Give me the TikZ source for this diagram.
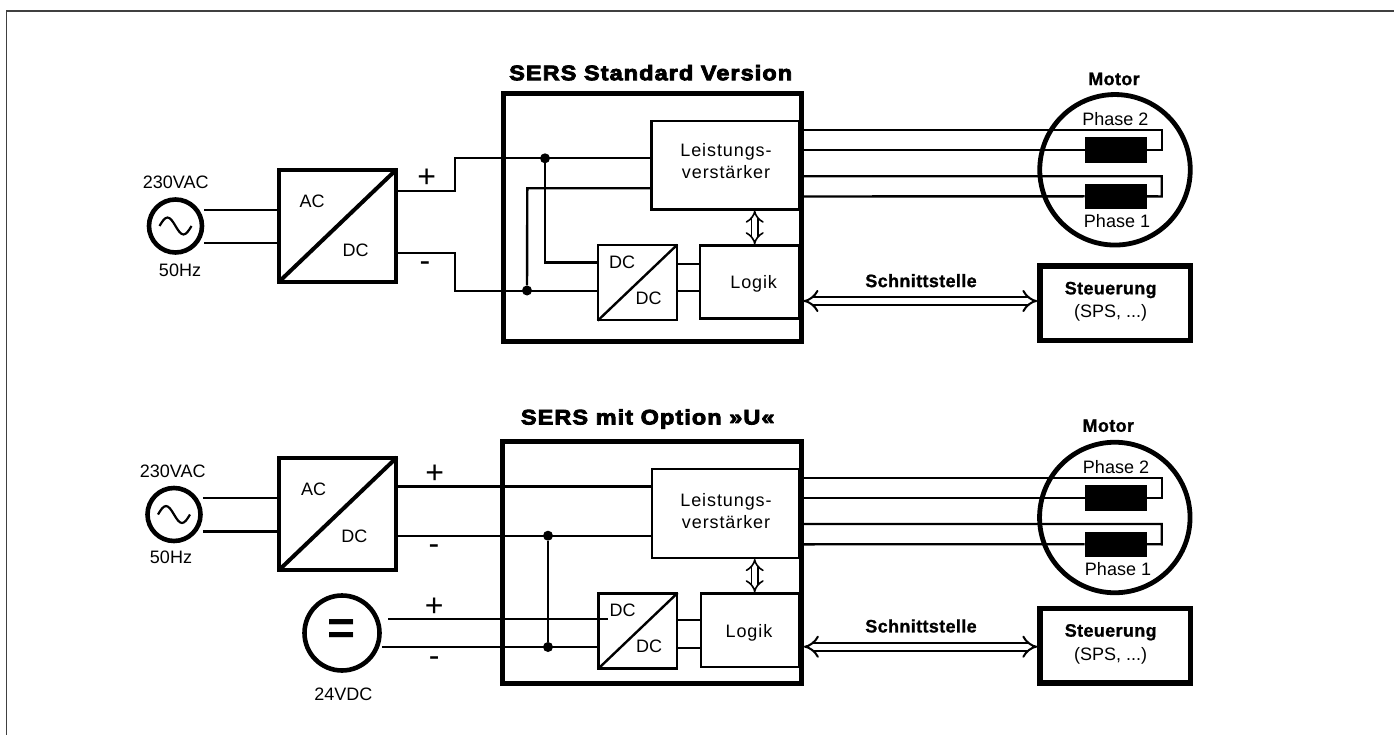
\documentclass[tikz,border=0pt]{standalone}
\usepackage{fontspec}
\setmainfont{Liberation Sans}
\newfontfamily\wirefont[LetterSpace=5]{Liberation Sans}
\newfontfamily\titlefont[UprightFont=* Bold,FakeBold=4,FakeStretch=1.12,LetterSpace=5]{Liberation Sans}
\newfontfamily\labelfont[UprightFont=* Bold,FakeBold=1,LetterSpace=2]{Liberation Sans}
\usetikzlibrary{arrows.meta,calc}

\begin{document}
\begin{tikzpicture}[
  x=1pt,y=-1pt,
  txt/.style={inner sep=0pt, font=\fontsize{18}{21}\selectfont},
  spaced/.style={inner sep=0pt, align=center, font=\fontsize{18}{22}\wirefont},
  head/.style={inner sep=0pt, font=\fontsize{21}{24}\titlefont},
  bold/.style={inner sep=0pt, align=center, font=\fontsize{18}{21}\labelfont},
  sign/.style={inner sep=0pt, font=\fontsize{32}{34}\selectfont},
  src/.style={draw, circle, line width=4.6pt, minimum size=53pt, inner sep=0pt},
  motor/.style={draw, circle, line width=4.8pt, minimum size=150.5pt, inner sep=0pt},
  block/.style={draw, line width=2.3pt, inner sep=0pt},
  conv/.style={draw, line width=4pt, inner sep=0pt},
  unit/.style={draw, line width=5pt, inner sep=0pt},
  ctrl/.style={draw, line width=5.6pt, inner sep=0pt},
  wire/.style={line width=2.4pt},
  dot/.style={circle, fill, minimum size=10pt, inner sep=0pt},
  coil/.style={fill, inner sep=0pt, minimum width=62pt, minimum height=25.4pt},
  bus/.style={double, double distance=5.6pt, line width=2pt, {Implies[]}-{Implies[]}}
]
\useasboundingbox (0,0) rectangle (1394,735);
\draw[line width=1.6pt, black!75] (6.5,735) -- (6.5,11) -- (1394,11);

% --- standard version ---
\node[head] (title1) at (650.7,72.7) {SERS Standard Version};
\node[unit, minimum width=298pt, minimum height=247.5pt] (sers1) at (652,217.3) {};
\node[block, minimum width=148pt, minimum height=88.3pt, anchor=north west] (amp1) at (650.3,120) {};
\node[spaced] (amptxt1) at (726,161) {Leistungs-\\verstärker};
\node[block, minimum width=99pt, minimum height=73pt, anchor=north west] (logic1) at (699,244.3) {};
\node[spaced] (logictxt1) at (753.7,284.3) {Logik};
\node[block, minimum width=78.7pt, minimum height=75pt, anchor=north west] (dcdc1) at (597,244) {};
\draw[wire, shorten >=1pt, shorten <=1pt] (dcdc1.south west) -- (dcdc1.north east);
\node[txt] (dca1) at (622,262.3) {DC};
\node[txt] (dcb1) at (648.7,298.7) {DC};

\node[src] (mains1) at (175.5,226) {};
\draw[line width=2.2pt] ($(mains1)+(-16,0)$) sin ++(8,-8.5) cos ++(8,8.5) sin ++(8,8.5) cos ++(8,-8.5);
\node[txt] (volt1) at (175.7,182.7) {230VAC};
\node[txt] (freq1) at (180,270.7) {50Hz};
\node[conv, minimum width=117pt, minimum height=111.7pt, anchor=north west] (acdc1) at (277,168) {};
\draw[line width=4pt, shorten >=2pt, shorten <=2pt] (acdc1.south west) -- (acdc1.north east);
\node[txt] (ac1) at (312,201.7) {AC};
\node[txt] (dc1) at (355.7,250.7) {DC};
\node[sign] (plus1) at (426.7,178.5) {+};
\node[sign] (minus1) at (425,267) {-};

\draw[wire] (mains1.east |- 0,210) -- (acdc1.west |- 0,210);
\draw[wire] (mains1.east |- 0,243) -- (acdc1.west |- 0,243);
\coordinate (pos1) at (455,191.3);
\coordinate (neg1) at (455,291);
\draw[wire] (acdc1.east |- pos1) -- (pos1) -- (455,158.3) -- (amp1.west |- 0,158.3);
\draw[wire] (acdc1.east |- 0,253) -- (455,253) -- (neg1) -- (dcdc1.west |- neg1);
\node[dot] (tap1) at (545,158.3) {};
\node[dot] (tap2) at (527,290.5) {};
\draw[wire] (tap1) -- (545,262.7) -- (dcdc1.west |- 0,262.7);
\draw[wire] (tap2) -- (527.3,188.3) -- (amp1.west |- 0,188.3);
\draw[wire] (dcdc1.east |- 0,264) -- (logic1.west |- 0,264);
\draw[wire] (dcdc1.east |- 0,291) -- (logic1.west |- 0,291);
\draw[bus, double distance=4.6pt, line width=1.6pt] (amp1.south -| 754.7,0) -- (logic1.north -| 754.7,0);

\node[bold] (iface1) at (921,280.7) {Schnittstelle};
\node[ctrl, minimum width=150.3pt, minimum height=74pt] (plc1) at (1115.2,303.3) {};
\node[bold] (plctxt1) at (1110.7,290) {Steuerung};
\node[txt] (plcsub1) at (1110.7,313.3) {(SPS, ...)};
\draw[bus] (sers1.east |- 0,301) -- (plc1.west |- 0,301);

\node[bold] (mtitle1) at (1114,79) {Motor};
\node[motor] (mot1) at (1115,169.8) {};
\node[coil] (coilb1) at (1115.7,150) {};
\node[coil] (coila1) at (1115.7,196.3) {};
\node[txt] (ph21) at (1115.3,119) {Phase 2};
\node[txt] (ph11) at (1117,221) {Phase 1};
\draw[wire] (sers1.east |- 0,130) -- (1161.7,130) -- (1161.7,150) -- (coilb1.east);
\draw[wire] (sers1.east |- 0,150) -- (coilb1.west);
\draw[wire] (sers1.east |- 0,176.3) -- (1161.7,176.3) -- (1161.7,196.5) -- (coila1.east);
\draw[wire] (sers1.east |- 0,196.5) -- (coila1.west);

% --- option U ---
\node[head] (title2) at (647.7,419) {SERS mit Option »U«};
\node[unit, minimum width=298.5pt, minimum height=241.4pt] (sers2) at (652.2,562.5) {};
\node[block, minimum width=147.3pt, minimum height=89pt, anchor=north west] (amp2) at (651,467.7) {};
\node[spaced] (amptxt2) at (726,511) {Leistungs-\\verstärker};
\node[block, minimum width=98.3pt, minimum height=73.4pt, anchor=north west] (logic2) at (700,592.3) {};
\node[spaced] (logictxt2) at (749,632.7) {Logik};
\node[block, minimum width=78.7pt, minimum height=75pt, anchor=north west] (dcdc2) at (597.3,592.3) {};
\draw[wire, shorten >=1pt, shorten <=1pt] (dcdc2.south west) -- (dcdc2.north east);
\node[txt] (dca2) at (622.7,610) {DC};
\node[txt] (dcb2) at (649,646.7) {DC};

\node[src] (mains2) at (174,514.5) {};
\draw[line width=2.2pt] ($(mains2)+(-16,0)$) sin ++(8,-8.5) cos ++(8,8.5) sin ++(8,8.5) cos ++(8,-8.5);
\node[txt] (volt2) at (172.7,471.7) {230VAC};
\node[txt] (freq2) at (171,557.7) {50Hz};
\node[conv, minimum width=117pt, minimum height=111.7pt, anchor=north west] (acdc2) at (277.3,456) {};
\draw[line width=4pt, shorten >=2pt, shorten <=2pt] (acdc2.south west) -- (acdc2.north east);
\node[txt] (ac2) at (313.7,489.3) {AC};
\node[txt] (dc2) at (354.3,536.7) {DC};
\node[sign] (plus2) at (434.7,474) {+};
\node[sign] (minus2) at (434,549.5) {-};
\node[src, minimum size=75pt] (batt) at (342,633) {};
\node[inner sep=0pt, font=\fontsize{48}{48}\bfseries] (eq) at (341.7,632.3) {=};
\node[txt] (volt3) at (343.3,694) {24VDC};
\node[sign] (plus3) at (434.3,607.5) {+};
\node[sign] (minus3) at (434.3,661.5) {-};

\draw[wire] (mains2.east |- 0,497.7) -- (acdc2.west |- 0,497.7);
\draw[wire] (mains2.east |- 0,531.3) -- (acdc2.west |- 0,531.3);
\draw[wire] (acdc2.east |- 0,486.5) -- (amp2.west |- 0,486.5);
\draw[wire] (acdc2.east |- 0,535.7) -- (amp2.west |- 0,535.7);
\node[dot] (tap3) at (548,535.7) {};
\node[dot] (tap4) at (548,647) {};
\draw[wire] (tap3) -- (tap4);
\coordinate (pos3) at (388.3,619);
\coordinate (pos4) at (608.3,619);
\draw[wire] (pos3) -- (pos4);
\draw[wire] (batt.east |- 0,646.7) -- (dcdc2.west |- 0,646.7);
\draw[wire] (dcdc2.east |- 0,620) -- (logic2.west |- 0,620);
\draw[wire] (dcdc2.east |- 0,647.7) -- (logic2.west |- 0,647.7);
\draw[bus, double distance=4.6pt, line width=1.6pt] (amp2.south -| 754.7,0) -- (logic2.north -| 754.7,0);

\node[bold] (iface2) at (921,626) {Schnittstelle};
\node[ctrl, minimum width=150.3pt, minimum height=74.6pt] (plc2) at (1115.2,645.8) {};
\node[bold] (plctxt2) at (1110.7,632.3) {Steuerung};
\node[txt] (plcsub2) at (1110.7,655.7) {(SPS, ...)};
\draw[bus] (sers2.east |- 0,646.7) -- (plc2.west |- 0,646.7);

\node[bold] (mtitle2) at (1108.3,425.7) {Motor};
\node[motor] (mot2) at (1114.8,517.5) {};
\node[coil] (coilb2) at (1115.7,498) {};
\node[coil] (coila2) at (1115.7,544.2) {};
\node[txt] (ph22) at (1116,466.7) {Phase 2};
\node[txt] (ph12) at (1118,568.7) {Phase 1};
\draw[wire] (sers2.east |- 0,477.7) -- (1161.7,477.7) -- (1161.7,498) -- (coilb2.east);
\draw[wire] (sers2.east |- 0,498) -- (coilb2.west);
\draw[wire] (sers2.east |- 0,524) -- (1161.7,524) -- (1161.7,544.3) -- (coila2.east);
\draw[wire] (sers2.east |- 0,544.3) -- (coila2.west);
\end{tikzpicture}
\end{document}
